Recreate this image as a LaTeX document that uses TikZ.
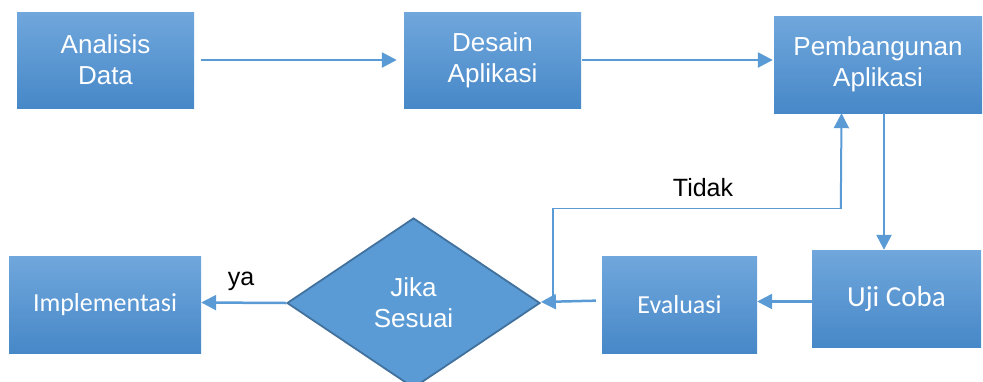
\documentclass[tikz,border=0pt]{standalone}
\usepackage{fontspec}
\setmainfont{Liberation Sans}
\newfontfamily\calib{Carlito}
\usetikzlibrary{arrows.meta,shapes.geometric}
\definecolor{lineblue}{HTML}{5B9BD5}
\definecolor{boxtop}{HTML}{70A7DC}
\definecolor{boxbot}{HTML}{4788C8}
\definecolor{dborder}{HTML}{41719C}
\tikzset{
  procbox/.style={rectangle, inner sep=0pt, top color=boxtop, bottom color=boxbot,
    draw=none, text=white, align=center,
    font=\fontsize{26}{31}\selectfont},
  decbox/.style={diamond, inner sep=0pt, fill=lineblue, draw=dborder, line width=1.8pt,
    text=white, align=center, font=\fontsize{26}{31}\selectfont},
  flow/.style={draw=lineblue, line width=2.5pt,
    -{Triangle[length=15pt,width=15pt]}},
  thinflow/.style={draw=lineblue, line width=1.4pt},
  lbl/.style={text=black, font=\fontsize{25}{30}\selectfont, inner sep=0pt}
}
\begin{document}
\begin{tikzpicture}[x=1pt,y=1pt]
\useasboundingbox (0,0) rectangle (983,-381);
% nodes
\node[procbox, minimum width=177pt, minimum height=96pt] (ana) at (105.5,-60) {Analisis\\Data};
\node[procbox, minimum width=177pt, minimum height=96pt] (des) at (492.5,-60) {Desain\\Aplikasi};
\node[procbox, minimum width=208pt, minimum height=97pt] (pem) at (878,-64.5) {Pembangunan\\Aplikasi};
\node[procbox, minimum width=169pt, minimum height=97pt, font=\calib\fontsize{29}{34}\selectfont] (uji) at (896.5,-298.5) {Uji Coba};
\node[procbox, minimum width=155pt, minimum height=97pt, font=\calib\fontsize{26}{31}\selectfont] (eva) at (679.5,-304.5) {Evaluasi};
\node[procbox, minimum width=192pt, minimum height=97pt, font=\calib\fontsize{26}{31}\selectfont] (imp) at (105,-304.5) {Implementasi};
\node[decbox, minimum width=253pt, minimum height=170pt] (dec) at (413.5,-303) {Jika\\Sesuai};
% labels
\node[lbl] (tidak) at (703,-188) {Tidak};
\node[lbl] (ya) at (241,-281) {ya};
% helper coordinates
\coordinate (cdown) at (884,0);
\coordinate (cup) at (841.5,0);
\coordinate (cleft) at (553,0);
\coordinate (ctop) at (0,-208.5);
% connectors
\draw[flow, shorten <=7pt, shorten >=7pt] (ana.east) -- (des.west);
\draw[flow, shorten <=1pt, shorten >=1pt] (des.east) -- ([yshift=4.5pt]pem.west);
\draw[flow] (pem.south -| cdown) -- (uji.north -| cdown);
\draw[flow] ([yshift=-3pt]uji.west) -- ([yshift=3pt]eva.east);
\draw[flow, shorten <=6pt] ([yshift=4pt]eva.west) -- ([yshift=1pt]dec.east);
\draw[flow] (dec.west) -- ([yshift=2pt]imp.east);
\draw[thinflow] (dec.east -| cleft) -- (cleft |- ctop) -- (cup |- ctop);
\draw[draw=lineblue, line width=2pt, -{Triangle[length=15pt,width=15pt]}] ([xshift=-0.7pt]cup |- ctop) -- (pem.south -| cup);
\end{tikzpicture}
\end{document}
